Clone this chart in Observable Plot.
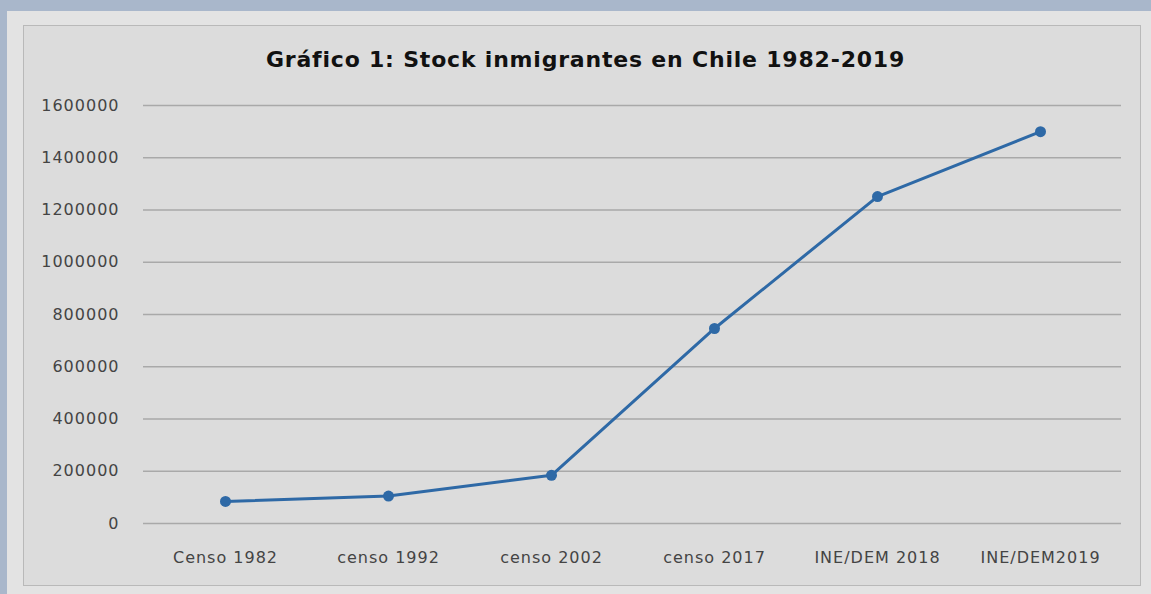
<!DOCTYPE html>
<html>
<head>
<meta charset="utf-8">
<script src="https://cdn.jsdelivr.net/npm/d3@7"></script>
<script src="https://cdn.jsdelivr.net/npm/@observablehq/plot@0.6"></script>
<style>
  html, body { margin: 0; padding: 0; }
  body { width: 1151px; height: 594px; background: #a9b7cb; position: relative; overflow: hidden; }
  #panel { position: absolute; left: 7px; top: 11px; width: 1144px; height: 583px; background: #e3e3e3; }
  #inner { position: absolute; left: 23px; top: 25px; width: 1116px; height: 559px; background: #dcdcdc; border: 1.5px solid #b9b9b9; }
  #title { position: absolute; left: 10px; width: 1151px; top: 47px; text-align: center;
           font: bold 22px "DejaVu Sans", sans-serif; letter-spacing: 0.8px; color: #111; }
  #chart { position: absolute; left: 0; top: 0; }
  #chart svg text { letter-spacing: 1px; }
</style>
</head>
<body>
<div id="panel"></div>
<div id="inner"></div>
<div id="title">Gráfico 1: Stock inmigrantes en Chile 1982-2019</div>
<div id="chart"></div>
<script>
const categories = ["Censo 1982", "censo 1992", "censo 2002", "censo 2017", "INE/DEM 2018", "INE/DEM2019"];
const values = [84345, 105000, 184464, 746465, 1251225, 1500000];
const yTicks = [0, 200000, 400000, 600000, 800000, 1000000, 1200000, 1400000, 1600000];

const data = categories.map((c, i) => ({cat: c, value: values[i]}));
const lineColor = "#2e69a6";

const chart = Plot.plot({
  width: 1151,
  height: 594,
  marginLeft: 143,
  marginRight: 30,
  marginTop: 105,
  marginBottom: 71,
  style: {background: "transparent", fontFamily: "DejaVu Sans, sans-serif", fontSize: "16px", color: "#444"},
  x: {type: "point", domain: categories, padding: 0.5, label: null},
  y: {domain: [0, 1600000], label: null},
  marks: [
    Plot.gridY(yTicks, {stroke: "#a9a9a9", strokeOpacity: 1, strokeWidth: 1.5}),
    Plot.axisY(yTicks, {tickSize: 0, tickPadding: 24, tickFormat: d => String(d), fill: "#444", fontSize: 16, label: null}),
    Plot.axisX({tickSize: 0, tickPadding: 28, fill: "#444", fontSize: 16, label: null}),
    Plot.line(data, {x: "cat", y: "value", stroke: lineColor, strokeWidth: 3}),
    Plot.dot(data, {x: "cat", y: "value", r: 5.5, fill: lineColor})
  ]
});
document.getElementById("chart").append(chart);
</script>
</body>
</html>
